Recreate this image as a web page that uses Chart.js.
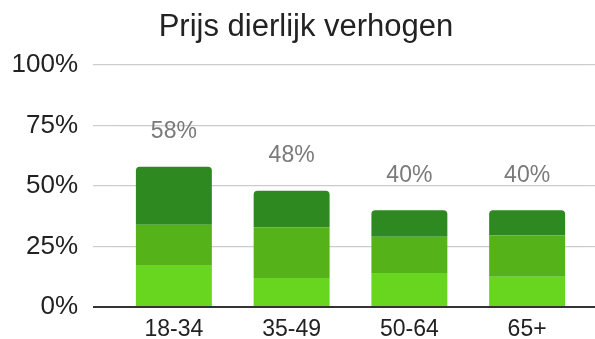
<!DOCTYPE html>
<html>
<head>
<meta charset="utf-8">
<script src="https://cdn.jsdelivr.net/npm/chart.js@4/dist/chart.umd.min.js"></script>
<style>
  html, body { margin: 0; padding: 0; background: #fff; }
  #wrap { width: 595px; height: 339px; }
</style>
</head>
<body>
<div id="wrap"><canvas id="c"></canvas></div>
<script>
// Age groups and the three stacked segments (percent)
const categories = ['18-34', '35-49', '50-64', '65+'];
const segmentLow = [17, 12, 14, 12.5];
const segmentMid = [17, 21, 15, 17];
const segmentHigh = [24, 15, 11, 10.5];
const totals = [58, 48, 40, 40];
const yTicks = [0, 25, 50, 75, 100];
const chartTitle = 'Prijs dierlijk verhogen';

const FONT = "'Liberation Sans', Arial, sans-serif";

// Chart heading, centred over the plot plus its value axis
const headingText = {
  id: 'headingText',
  afterDraw(chart) {
    const ctx = chart.ctx;
    ctx.save();
    ctx.font = '31px ' + FONT;
    ctx.fillStyle = '#222222';
    ctx.textAlign = 'center';
    ctx.textBaseline = 'alphabetic';
    ctx.fillText(chartTitle, 306, 36);
    ctx.restore();
  }
};

// Writes the stack total above each bar
const totalLabels = {
  id: 'totalLabels',
  afterDatasetsDraw(chart) {
    const ctx = chart.ctx;
    const topMeta = chart.getDatasetMeta(chart.data.datasets.length - 1);
    ctx.save();
    ctx.font = '23px ' + FONT;
    ctx.fillStyle = '#7a7a7a';
    ctx.textAlign = 'center';
    ctx.textBaseline = 'middle';
    topMeta.data.forEach((bar, i) => {
      ctx.fillText(totals[i] + '%', bar.x, bar.y - 35);
    });
    ctx.restore();
  }
};

const gridColor = (c) => (c.tick && c.tick.value === 0 ? '#333333' : '#cccccc');
const gridWidth = (c) => (c.tick && c.tick.value === 0 ? 2 : 1.2);

new Chart(document.getElementById('c'), {
  type: 'bar',
  data: {
    labels: categories,
    datasets: [
      { data: segmentLow, backgroundColor: '#68d51f', borderRadius: 0 },
      { data: segmentMid, backgroundColor: '#56b219', borderRadius: 0 },
      { data: segmentHigh, backgroundColor: '#2e8920',
        borderRadius: { topLeft: 4, topRight: 4, bottomLeft: 0, bottomRight: 0 },
        borderSkipped: 'start' }
    ]
  },
  options: {
    responsive: true,
    maintainAspectRatio: false,
    animation: false,
    devicePixelRatio: 1,
    layout: { padding: { left: 0, right: 0, top: 65, bottom: 0 } },
    datasets: { bar: { barPercentage: 0.645, categoryPercentage: 1 } },
    plugins: {
      legend: { display: false },
      tooltip: { enabled: false },
      title: { display: false }
    },
    scales: {
      x: {
        stacked: true,
        grid: { display: false, drawTicks: false },
        border: { display: false },
        afterFit: (scale) => { scale.height = 32; },
        ticks: {
          color: '#222222',
          padding: 11,
          font: { family: FONT, size: 23, lineHeight: 1 }
        }
      },
      y: {
        stacked: true,
        min: 0,
        max: 100,
        afterBuildTicks: (scale) => { scale.ticks = yTicks.map(v => ({ value: v })); },
        afterFit: (scale) => { scale.width = 115; },
        border: { display: false },
        grid: { color: gridColor, lineWidth: gridWidth, drawTicks: true, tickLength: 22 },
        ticks: {
          color: '#222222',
          padding: 15,
          font: { family: FONT, size: 26 },
          callback: (v) => v + '%'
        }
      },
      yRight: {
        position: 'right',
        min: 0,
        max: 100,
        afterBuildTicks: (scale) => { scale.ticks = yTicks.map(v => ({ value: v })); },
        afterFit: (scale) => { scale.width = 9; },
        border: { display: false },
        grid: { color: gridColor, lineWidth: gridWidth, drawOnChartArea: false, drawTicks: true, tickLength: 9 },
        ticks: { callback: () => '', padding: 0 }
      }
    }
  },
  plugins: [totalLabels, headingText]
});
</script>
</body>
</html>
